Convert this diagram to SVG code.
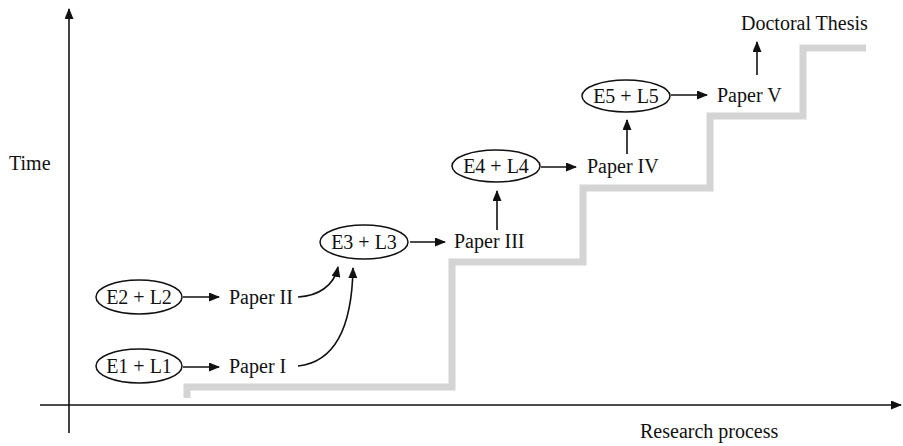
<svg xmlns="http://www.w3.org/2000/svg" width="903" height="446" viewBox="0 0 903 446">
  <style>
    text { font-family: "Liberation Serif", "Times New Roman", serif; font-size: 20px; fill: #111; }
    .mid { text-anchor: middle; }
    .node ellipse { fill: #fff; stroke: #111; stroke-width: 1.5; }
    .conn { fill: none; stroke: #111; stroke-width: 1.6; marker-end: url(#arrow); }
    .axis { fill: none; stroke: #111; stroke-width: 1.6; }
    .stairs { fill: none; stroke: #d4d4d4; stroke-width: 7; stroke-linejoin: miter; }
  </style>
  <defs>
    <marker id="arrow" markerUnits="userSpaceOnUse" markerWidth="11" markerHeight="9" refX="10" refY="4.5" orient="auto">
      <path d="M0,0 L11,4.5 L0,9 z" fill="#111"/>
    </marker>
  </defs>

  <rect width="903" height="446" fill="#fff"/>

  <!-- staircase of the research process -->
  <path class="stairs" d="M187,398 V387 H452 V262 H583 V188 H710 V116 H803 V48 H866"/>

  <!-- axes -->
  <g id="axes">
    <line class="axis" x1="69" y1="433" x2="69" y2="9" marker-end="url(#arrow)"/>
    <line class="axis" x1="40" y1="405" x2="901" y2="405" marker-end="url(#arrow)"/>
    <text x="9" y="170">Time</text>
    <text x="640" y="438">Research process</text>
  </g>

  <!-- nodes -->
  <g id="e1l1" class="node">
    <ellipse cx="139" cy="366" rx="43" ry="17"/>
    <text class="mid" x="139" y="373">E1 + L1</text>
  </g>
  <g id="e2l2" class="node">
    <ellipse cx="139" cy="297" rx="43" ry="17"/>
    <text class="mid" x="139" y="304">E2 + L2</text>
  </g>
  <g id="e3l3" class="node">
    <ellipse cx="364" cy="242" rx="44" ry="17"/>
    <text class="mid" x="364" y="249">E3 + L3</text>
  </g>
  <g id="e4l4" class="node">
    <ellipse cx="496" cy="166" rx="44" ry="16"/>
    <text class="mid" x="496" y="173">E4 + L4</text>
  </g>
  <g id="e5l5" class="node">
    <ellipse cx="626" cy="96" rx="44" ry="16"/>
    <text class="mid" x="626" y="103">E5 + L5</text>
  </g>
  <g id="paper1"><text x="229" y="373">Paper I</text></g>
  <g id="paper2"><text x="229" y="304">Paper II</text></g>
  <g id="paper3"><text x="454" y="248">Paper III</text></g>
  <g id="paper4"><text x="587" y="173">Paper IV</text></g>
  <g id="paper5"><text x="717" y="102">Paper V</text></g>
  <g id="thesis"><text x="741" y="30">Doctoral Thesis</text></g>

  <!-- connectors -->
  <g id="connectors">
    <line class="conn" x1="183" y1="367" x2="219" y2="367"/>
    <line class="conn" x1="183" y1="297" x2="219" y2="297"/>
    <path class="conn" d="M298,297 C318,296 334,286 338,267"/>
    <path class="conn" d="M298,366 C336,362 352,326 353,268"/>
    <line class="conn" x1="410" y1="242" x2="445" y2="242"/>
    <line class="conn" x1="497" y1="230" x2="497" y2="191"/>
    <line class="conn" x1="541" y1="167" x2="576" y2="167"/>
    <line class="conn" x1="627" y1="154" x2="627" y2="120"/>
    <line class="conn" x1="671" y1="95" x2="707" y2="95"/>
    <line class="conn" x1="757" y1="75" x2="757" y2="42"/>
  </g>
</svg>
